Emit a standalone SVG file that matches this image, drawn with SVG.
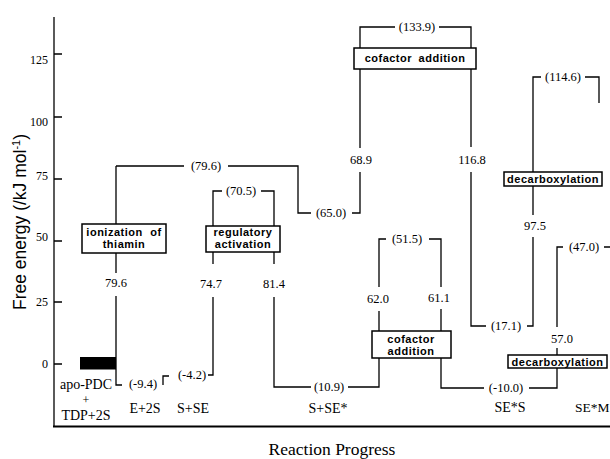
<svg xmlns="http://www.w3.org/2000/svg" width="610" height="459" viewBox="0 0 610 459">
<style>
.ln{stroke:#000;stroke-width:1.3;fill:none}
.bx{fill:#fff;stroke:#000;stroke-width:1.5}
.bt{font-family:"Liberation Sans",Arial,sans-serif;font-weight:bold;font-size:11px;letter-spacing:0.5px;text-anchor:middle}
.num{font-family:"Liberation Serif","Times New Roman",serif;font-size:12.5px;text-anchor:middle}
.st{font-family:"Liberation Serif","Times New Roman",serif;font-size:14px;text-anchor:middle}
.tk{font-family:"Liberation Serif","Times New Roman",serif;font-size:12px;text-anchor:end}
</style>
<rect width="610" height="459" fill="#fff"/>
<g id="axes">
<path class="ln" d="M54,17V427"/>
<path d="M53,426.5H610" stroke="#000" stroke-width="2"/>
<path class="ln" d="M54,54H62M54,117H62M54,179H62M54,241H62M54,302H62M54,364H62"/>
<text class="tk" x="48" y="64">125</text>
<text class="tk" x="48" y="126">100</text>
<text class="tk" x="48" y="180">75</text>
<text class="tk" x="48" y="241">50</text>
<text class="tk" x="48" y="306">25</text>
<text class="tk" x="48" y="368">0</text>
<text transform="translate(26,222) rotate(-90)" text-anchor="middle" font-family="Liberation Sans, Arial, sans-serif" font-size="17.5">Free energy (/kJ mol<tspan baseline-shift="super" font-size="11">-1</tspan>)</text>
<text x="332" y="455" text-anchor="middle" font-family="Liberation Serif, Times New Roman, serif" font-size="17.5">Reaction Progress</text>
</g>
<g id="connectors">
<path class="ln" d="M116,166V224M116,253V273M116,296V385H122"/>
<path class="ln" d="M116,166H184M228,166H298V213H311M352,213H360V172M360,148V69"/>
<path class="ln" d="M360,48V27H395M439,27H471V48"/>
<path class="ln" d="M471,69V147M471,172V326H486M527,326H533V237M533,215V186M533,172V77H541M585,77H599V103"/>
<path class="ln" d="M163,385V376H169M208,375H213V297M213,264V252M213,226V191H222M261,191H274V226M274,252V264M274,297V387H311M348,387H379V358"/>
<path class="ln" d="M379,331V311M379,287V239H386M429,239H441V287M441,309V331M441,358V388H484M529,388H557V368M557,355V348M557,327V247H563M604,247H610"/>
</g>
<g id="node-apo-PDC">
<rect x="80" y="357" width="36" height="12.5" fill="#000"/>
<text class="st" x="86" y="389">apo-PDC</text>
<text class="st" x="86" y="404" style="font-size:12px">+</text>
<text class="st" x="86" y="420">TDP+2S</text>
</g>
<g id="node-E2S"><text class="st" x="145" y="413">E+2S</text><text class="num" x="143" y="388">(-9.4)</text></g>
<g id="node-SSE"><text class="st" x="193" y="413">S+SE</text><text class="num" x="192" y="379">(-4.2)</text></g>
<g id="node-SSEstar"><text class="st" x="328" y="413">S+SE*</text><text class="num" x="329" y="391">(10.9)</text></g>
<g id="node-SEstarS"><text class="st" x="510" y="412">SE*S</text><text class="num" x="506" y="392">(-10.0)</text></g>
<g id="node-SEstarM"><text class="st" x="575" y="412" style="text-anchor:start;font-size:13.5px">SE*M</text></g>
<g id="node-ionization">
<rect class="bx" x="82" y="224" width="84" height="29"/>
<text class="bt" x="124" y="236" word-spacing="4">ionization of</text>
<text class="bt" x="124" y="248">thiamin</text>
</g>
<g id="node-regulatory">
<rect class="bx" x="206" y="226" width="74" height="26"/>
<text class="bt" x="243" y="235.5">regulatory</text>
<text class="bt" x="243" y="248">activation</text>
</g>
<g id="node-cofactor-top">
<rect class="bx" x="354" y="48" width="122" height="21"/>
<text class="bt" x="415" y="62" word-spacing="3">cofactor addition</text>
</g>
<g id="node-cofactor-bottom">
<rect class="bx" x="372" y="331" width="79" height="27"/>
<text class="bt" x="411" y="343">cofactor</text>
<text class="bt" x="411" y="355">addition</text>
</g>
<g id="node-decarb-top">
<rect class="bx" x="504" y="172" width="98" height="14"/>
<text class="bt" x="553" y="183">decarboxylation</text>
</g>
<g id="node-decarb-bottom">
<rect class="bx" x="508" y="355" width="99" height="13"/>
<text class="bt" x="557.5" y="365.5">decarboxylation</text>
</g>
<g id="labels">
<text class="num" x="206" y="170">(79.6)</text>
<text class="num" x="331" y="217">(65.0)</text>
<text class="num" x="417" y="31">(133.9)</text>
<text class="num" x="241" y="195">(70.5)</text>
<text class="num" x="407" y="243">(51.5)</text>
<text class="num" x="506" y="330">(17.1)</text>
<text class="num" x="563" y="81">(114.6)</text>
<text class="num" x="584" y="251">(47.0)</text>
<text class="num" x="116" y="287">79.6</text>
<text class="num" x="211" y="288">74.7</text>
<text class="num" x="274" y="288">81.4</text>
<text class="num" x="361" y="164">68.9</text>
<text class="num" x="472" y="164">116.8</text>
<text class="num" x="535" y="230">97.5</text>
<text class="num" x="378" y="303">62.0</text>
<text class="num" x="439" y="302">61.1</text>
<text class="num" x="562" y="343">57.0</text>
</g>
</svg>
